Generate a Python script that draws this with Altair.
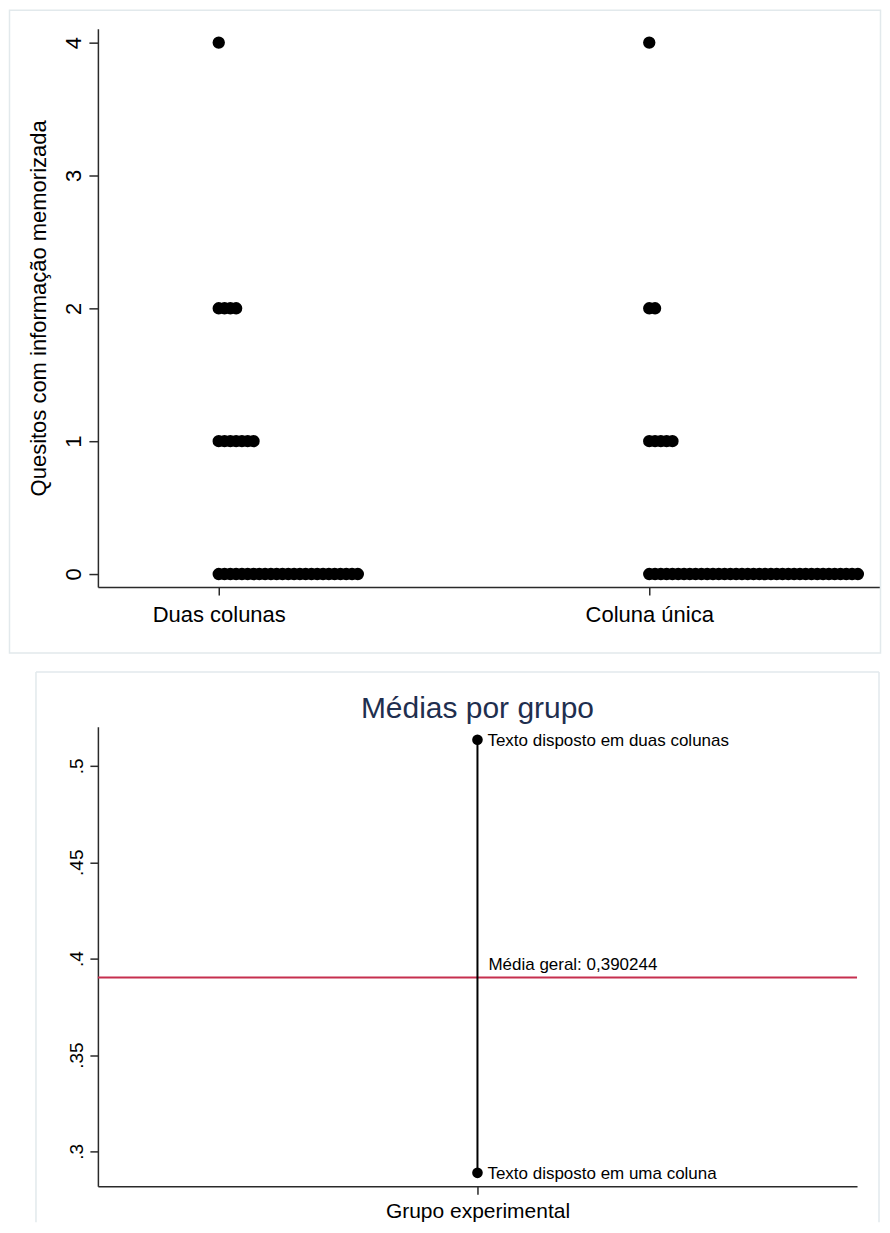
import altair as alt
import pandas as pd

# ---------------- data ----------------
groups = ["Duas colunas", "Coluna única"]
score_levels = [0, 1, 2, 4]
counts_duas = [25, 7, 4, 1]
counts_unica = [37, 5, 2, 1]

mean_labels = ["Texto disposto em duas colunas", "Texto disposto em uma coluna"]
group_means = [0.5135, 0.2889]
overall_mean = 0.390244

y_ticks_top = [0, 1, 2, 3, 4]
y_ticks_bottom = [0.3, 0.35, 0.4, 0.45, 0.5]

FONT = "Liberation Sans"
AXIS_COLOR = "#2a2a2a"
FRAME_COLOR = "#e2e9ec"

rows = []
for gi, (g, cnts) in enumerate(zip(groups, [counts_duas, counts_unica])):
    for v, c in zip(score_levels, cnts):
        for _ in range(c):
            rows.append({"grupo": g, "gidx": gi, "valor": v})
dots = pd.DataFrame(rows)

one = pd.DataFrame({"k": [0]})

# ---------------- top panel: dot plot ----------------
TOP_W, TOP_H = 783, 559
x_top_scale = alt.Scale(domain=[-0.2807, 1.536], nice=False, zero=False)
y_top_scale = alt.Scale(domain=[-0.098, 4.105], nice=False, zero=False)

label_expr_top = " : ".join(
    [f"datum.value == {i} ? '{g}'" for i, g in enumerate(groups[:-1])] + [f"'{groups[-1]}'"]
)

x_top_axis = alt.Axis(
    values=[0, 1], labelExpr=label_expr_top, title=None, grid=False,
    labelFontSize=22, labelPadding=10, labelAngle=0, labelBaseline="top",
    labelColor="black", tickSize=8, tickColor=AXIS_COLOR, tickWidth=1.5,
    domainColor=AXIS_COLOR, domainWidth=1.5,
)
y_top_axis = alt.Axis(
    values=y_ticks_top, format="d", grid=False,
    labelAngle=270, labelAlign="center", labelBaseline="alphabetic",
    labelFontSize=22, labelPadding=8, labelColor="black",
    tickSize=9, tickColor=AXIS_COLOR, tickWidth=1.5,
    domainColor=AXIS_COLOR, domainWidth=1.5,
    title="Quesitos com informação memorizada", titleFontSize=22,
    titleFontWeight="normal", titleColor="black", titlePadding=12,
)

frame_top = alt.Chart(one).mark_rect(
    fill="transparent", stroke=FRAME_COLOR, strokeWidth=1.5
).encode(
    x=alt.value(-88.5), x2=alt.value(TOP_W + 0.5),
    y=alt.value(-18.5), y2=alt.value(TOP_H + 66),
)

dots_layer = alt.Chart(dots).transform_window(
    rank="row_number()", groupby=["grupo", "valor"]
).transform_calculate(
    pos="datum.gidx + (datum.rank - 1) * 0.01346"
).mark_circle(size=154, color="black", opacity=1).encode(
    x=alt.X("pos:Q", scale=x_top_scale, axis=x_top_axis),
    y=alt.Y("valor:Q", scale=y_top_scale, axis=y_top_axis),
)

top = alt.layer(frame_top, dots_layer).properties(width=TOP_W, height=TOP_H)

# ---------------- bottom panel: means ----------------
BOT_W, BOT_H = 760, 460
y_bot_scale = alt.Scale(domain=[0.2819, 0.5202], nice=False, zero=False)
x_bot_scale = alt.Scale(domain=[0, 2], nice=False, zero=False)

y_bot_axis = alt.Axis(
    values=y_ticks_bottom, grid=False, title=None,
    labelExpr="replace(format(datum.value, '.2~f'), '0.', '.')",
    labelAngle=270, labelAlign="center", labelBaseline="alphabetic",
    labelFontSize=19, labelPadding=7, labelColor="black",
    tickSize=8, tickColor=AXIS_COLOR, tickWidth=1.5,
    domainColor=AXIS_COLOR, domainWidth=1.5,
)
x_bot_axis = alt.Axis(
    values=[1], labels=False, grid=False,
    tickSize=8, tickColor=AXIS_COLOR, tickWidth=1.5,
    domainColor=AXIS_COLOR, domainWidth=1.5,
    title="Grupo experimental", titleFontSize=21, titleFontWeight="normal",
    titleColor="black", titlePadding=5,
)

def xb():
    return alt.XDatum(1, type="quantitative", scale=x_bot_scale, axis=x_bot_axis)

def yb(field):
    return alt.Y(field, type="quantitative", scale=y_bot_scale, axis=y_bot_axis)

means = pd.DataFrame({"rotulo": mean_labels, "media": group_means})
span = pd.DataFrame({"media": [max(group_means)], "lo": [min(group_means)]})
overall = pd.DataFrame({
    "media": [overall_mean],
    "txt": ["Média geral: " + f"{overall_mean:.6f}".replace(".", ",")],
})

# open frame (top, left, right edges) running down to the page bottom
FB_TOP, FB_BOTTOM, FB_LEFT, FB_RIGHT = -55, BOT_H + 36, -62, BOT_W + 22
frame_bot = [
    alt.Chart(one).mark_rule(color=FRAME_COLOR, strokeWidth=1.5).encode(
        x=alt.value(FB_LEFT), x2=alt.value(FB_RIGHT), y=alt.value(FB_TOP)),
    alt.Chart(one).mark_rule(color=FRAME_COLOR, strokeWidth=1.5).encode(
        x=alt.value(FB_LEFT), y=alt.value(FB_TOP), y2=alt.value(FB_BOTTOM)),
    alt.Chart(one).mark_rule(color=FRAME_COLOR, strokeWidth=1.5).encode(
        x=alt.value(FB_RIGHT), y=alt.value(FB_TOP), y2=alt.value(FB_BOTTOM)),
]

title_layer = alt.Chart(one).mark_text(
    text="Médias por grupo", fontSize=30, color="#1f2f4f",
    align="center", baseline="alphabetic",
).encode(x=xb(), y=alt.value(-9))

red_rule = alt.Chart(overall).mark_rule(color="#c62f4f", strokeWidth=2).encode(
    y=yb("media")
)
red_text = alt.Chart(overall).mark_text(
    align="left", baseline="alphabetic", dx=11, dy=-7, fontSize=17, color="black"
).encode(x=xb(), y=yb("media"), text="txt:N")

vline = alt.Chart(span).mark_rule(color="black", strokeWidth=2).encode(
    x=xb(), y=yb("media"), y2="lo:Q"
)
mean_pts = alt.Chart(means).mark_circle(size=113, color="black", opacity=1).encode(
    x=xb(), y=yb("media")
)
mean_txt = alt.Chart(means).mark_text(
    align="left", baseline="middle", dx=10, dy=1, fontSize=17, color="black"
).encode(x=xb(), y=yb("media"), text="rotulo:N")

bottom = alt.layer(
    *frame_bot, title_layer, red_rule, vline, mean_pts, red_text, mean_txt
).properties(width=BOT_W, height=BOT_H)

chart = alt.vconcat(top, bottom, spacing=17).configure(
    font=FONT, padding=0, background="white"
).configure_view(stroke=None)

chart.save("out.html", embed_options={"renderer": "svg", "actions": False})
